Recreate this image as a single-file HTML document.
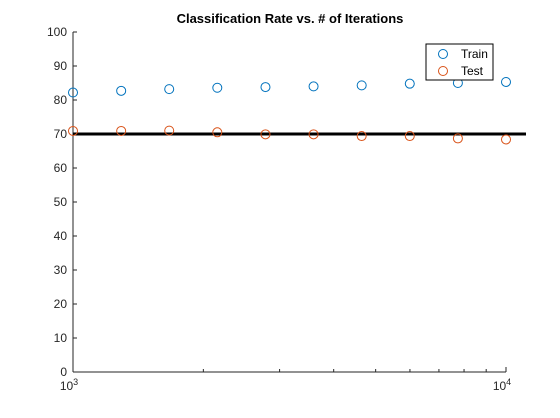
<!DOCTYPE html>
<html><head><meta charset="utf-8"><style>body{margin:0;background:#fff}svg{display:block;font-family:"Liberation Sans",sans-serif}</style></head>
<body>
<svg id="c" width="560" height="418"></svg>
<script>
const iterations=[1000,1292,1668,2154,2783,3594,4642,5995,7743,10000];
const trainRate=[82.2,82.7,83.2,83.6,83.8,84.0,84.3,84.8,85.0,85.3];
const testRate=[70.9,70.9,71.0,70.5,69.9,69.9,69.4,69.4,68.7,68.4];
const yTicks=[0,10,20,30,40,50,60,70,80,90,100];
const refLine=70;
const X0=73,X1=506,Y0=372,Y1=32;
const sx=v=>X0+(Math.log10(v)-3)*(X1-X0);
const sy=v=>Y0-(v/100)*(Y0-Y1);
const svg=document.getElementById('c');const NS='http://www.w3.org/2000/svg';
function mk(t,a,p){const e=document.createElementNS(NS,t);for(const k in a)e.setAttribute(k,a[k]);(p||svg).appendChild(e);return e;}
let e;
e=mk('text',{x:290,y:23,'text-anchor':'middle','font-size':13,'font-weight':'bold',fill:'#000'});e.textContent='Classification Rate vs. # of Iterations';


e=mk('line',{x1:X0,y1:Y0,x2:X0,y2:Y1,stroke:'#262626','stroke-width':1});


e=mk('line',{x1:X0,y1:Y0,x2:X1,y2:Y0,stroke:'#262626','stroke-width':1});


yTicks.forEach(t=>{
 e=mk('line',{x1:X0,y1:sy(t),x2:X0+4,y2:sy(t),stroke:'#262626'});
 
 
 e=mk('text',{x:X0-6,y:sy(t)+4,'text-anchor':'end','font-size':12,fill:'#262626'});e.textContent=t;
 
 
});
for(let m=2;m<=9;m++){
 e=mk('line',{x1:sx(m*1000),y1:Y0,x2:sx(m*1000),y2:Y0-3,stroke:'#262626'});
 
 
}
e=mk('line',{x1:X1,y1:Y0,x2:X1,y2:Y0-5,stroke:'#262626'});
[[1000,'3'],[10000,'4']].forEach(([v,p])=>{
 e=mk('text',{x:sx(v)-4,y:Y0+18,'text-anchor':'middle','font-size':12,fill:'#262626'});
 e.innerHTML='10<tspan dy="-5" font-size="9">'+p+'</tspan>';
 
 
});
e=mk('line',{x1:X0,y1:sy(refLine),x2:526,y2:sy(refLine),stroke:'#000','stroke-width':3});


iterations.forEach((v,i)=>{
 e=mk('circle',{cx:sx(v),cy:sy(trainRate[i]),r:4.5,fill:'none',stroke:'#0072bd'});
 
 
 e=mk('circle',{cx:sx(v),cy:sy(testRate[i]),r:4.5,fill:'none',stroke:'#d95319'});
 
 
});
const g=mk('g',{});


mk('rect',{x:426,y:44,width:67,height:36,fill:'#fff',stroke:'#000'},g);
mk('circle',{cx:443,cy:54,r:4.5,fill:'none',stroke:'#0072bd'},g);
mk('circle',{cx:443,cy:71,r:4.5,fill:'none',stroke:'#d95319'},g);
e=mk('text',{x:461,y:58,'font-size':12,fill:'#000'},g);e.textContent='Train';


e=mk('text',{x:461,y:75,'font-size':12,fill:'#000'},g);e.textContent='Test';


</script>
</body></html>
